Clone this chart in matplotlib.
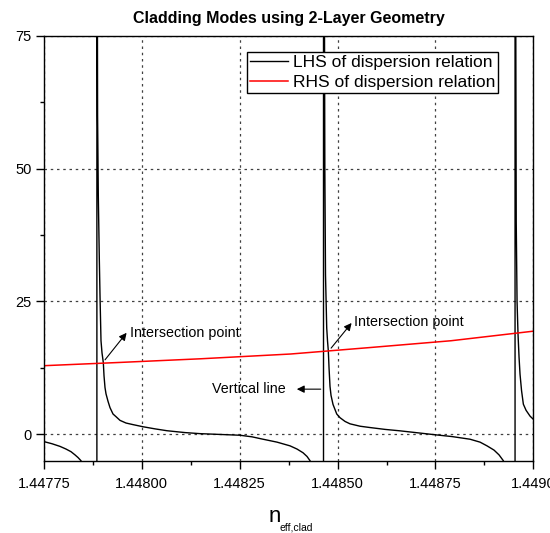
import matplotlib
matplotlib.use("Agg")
import matplotlib.pyplot as plt


PLOT_IMAGE_NAME = "out.png"

# LHS of dispersion relation (branches joined by the vertical jumps)
lhs_n = [1.4477500, 1.4477704, 1.4477909, 1.4478062, 1.4478190, 1.4478292, 1.4478369,
         1.4478445, 1.4478573, 1.4478675, 1.4478777, 1.4478851, 1.4478851,
         # branch 2
         1.4478862, 1.4478869, 1.4478887, 1.4478913, 1.4478931, 1.4478956, 1.4478982,
         1.4479015, 1.4479033, 1.4479058, 1.4479084, 1.4479135, 1.4479186, 1.4479263,
         1.4479339, 1.4479442, 1.4479595, 1.4479774, 1.4480029, 1.4480336, 1.4480642,
         1.4481102, 1.4481485, 1.4481996, 1.4482507, 1.4482814, 1.4483095, 1.4483453,
         1.4483785, 1.4483963, 1.4484117, 1.4484219, 1.4484296, 1.4484423, 1.4484551,
         1.4484640, 1.4484640,
         # branch 3
         1.4484661, 1.4484674, 1.4484691, 1.4484722, 1.4484743, 1.4484763, 1.4484781,
         1.4484806, 1.4484832, 1.4484883, 1.4484978, 1.4485062, 1.4485190, 1.4485317,
         1.4485573, 1.4485828, 1.4486212, 1.4486595, 1.4487055, 1.4487514, 1.4487923,
         1.4488383, 1.4488639, 1.4488817, 1.4488996, 1.4489124, 1.4489234, 1.4489379,
         1.4489482, 1.4489533, 1.4489533,
         # branch 4
         1.4489548, 1.4489563, 1.4489584, 1.4489609, 1.4489635, 1.4489660, 1.4489699,
         1.4489745, 1.4489814, 1.4489916, 1.4490000]
lhs_val = [-1.4, -1.8, -2.3, -2.8, -3.3, -3.9, -4.4,
           -5.0, -7.5, -12.0, -30.0, -1000.0, 1000.0,
           90.0, 60.0, 45.0, 33.0, 26.0, 17.6, 15.3,
           13.5, 11.0, 8.8, 7.6, 6.2, 5.0, 3.8,
           3.3, 2.6, 2.1, 1.8, 1.4, 1.0, 0.65,
           0.3, 0.1, -0.05, -0.2, -0.5, -0.95, -1.5,
           -2.2, -2.8, -3.5, -4.2, -5.0, -8.0, -20.0,
           -1000.0, 1000.0,
           90.0, 50.0, 30.0, 20.0, 17.5, 15.7, 12.5,
           9.0, 7.3, 5.6, 3.8, 3.1, 2.4, 1.95,
           1.5, 1.25, 0.9, 0.63, 0.25, -0.13, -0.45,
           -0.95, -1.5, -2.2, -3.0, -3.9, -5.0, -10.0,
           -30.0, -1000.0, 1000.0,
           90.0, 40.0, 25.0, 18.8, 14.5, 11.3, 8.2,
           5.65, 4.5, 3.4, 2.8]

# RHS of dispersion relation
rhs_n = [1.44775, 1.44794, 1.44815, 1.44838, 1.44858, 1.44879, 1.44900]
rhs_val = [12.9, 13.5, 14.2, 15.1, 16.3, 17.6, 19.4]

x_ticks = [1.44775, 1.44800, 1.44825, 1.44850, 1.44875, 1.44900]
x_tick_labels = ["1.44775", "1.44800", "1.44825", "1.44850", "1.44875", "1.4490"]
y_ticks = [0, 25, 50, 75]


plt.rcParams["font.family"] = ["Liberation Sans", "DejaVu Sans"]

fig = plt.figure(figsize=(5.5, 5.33), dpi=100)
ax = fig.add_axes([0.08, 0.1356, 0.8897, 0.7969])

ax.plot(lhs_n, lhs_val, color="black", lw=1.0, label="LHS of dispersion relation")
ax.plot(rhs_n, rhs_val, color="red", lw=1.1, label="RHS of dispersion relation")

ax.set_xlim(1.44775, 1.44900)
ax.set_ylim(-5, 75)
ax.set_xticks(x_ticks)
ax.set_xticklabels(x_tick_labels)
ax.set_xticks([1.447875, 1.448125, 1.448375, 1.448625, 1.448875], minor=True)
ax.set_yticks(y_ticks)
ax.set_yticks([12.5, 37.5, 62.5], minor=True)
ax.tick_params(axis="both", which="major", direction="out", length=6, width=1,
               labelsize=10.5)
ax.tick_params(axis="x", which="major", pad=6)
ax.tick_params(axis="y", which="major", pad=3)
ax.tick_params(axis="both", which="minor", direction="out", length=3, width=1)
ax.tick_params(top=False, right=False, which="both")

ax.grid(True, which="major", color="0.25", lw=0.9, linestyle=(0, (2, 3)))
for s in ax.spines.values():
    s.set_linewidth(1.0)

ax.set_title("Cladding Modes using 2-Layer Geometry", fontsize=11.5,
             fontweight="bold", pad=9)

# x axis label: n with a small subscript
fig.text(0.489, 0.020, "n", fontsize=16, ha="left", va="baseline")
fig.text(0.509, 0.004, "eff,clad", fontsize=7.5, ha="left", va="baseline")

leg = ax.legend(loc="upper right", bbox_to_anchor=(0.928, 0.962), fontsize=12.5,
                fancybox=False, edgecolor="black", framealpha=1,
                handlelength=2.2, handletextpad=0.3, borderpad=0.15,
                labelspacing=0.3, borderaxespad=0)
leg.get_frame().set_linewidth(1.0)

# annotations
arrow = dict(arrowstyle="-|>", color="black", lw=0.8, mutation_scale=11)
ax.annotate("", xy=(1.4479654, 19.5), xytext=(1.4479015, 13.6), arrowprops=arrow)
ax.text(1.4479697, 19.15, "Intersection point", fontsize=10.3, va="center", ha="left")
ax.annotate("", xy=(1.4485402, 21.35), xytext=(1.4484789, 15.8), arrowprops=arrow)
ax.text(1.4485420, 21.2, "Intersection point", fontsize=10.3, va="center", ha="left")
ax.annotate("", xy=(1.4483887, 8.48), xytext=(1.4484640, 8.48), arrowprops=arrow)
ax.text(1.4481784, 8.48, "Vertical line", fontsize=10.3, va="center", ha="left")

plt.savefig(PLOT_IMAGE_NAME, dpi=100)
